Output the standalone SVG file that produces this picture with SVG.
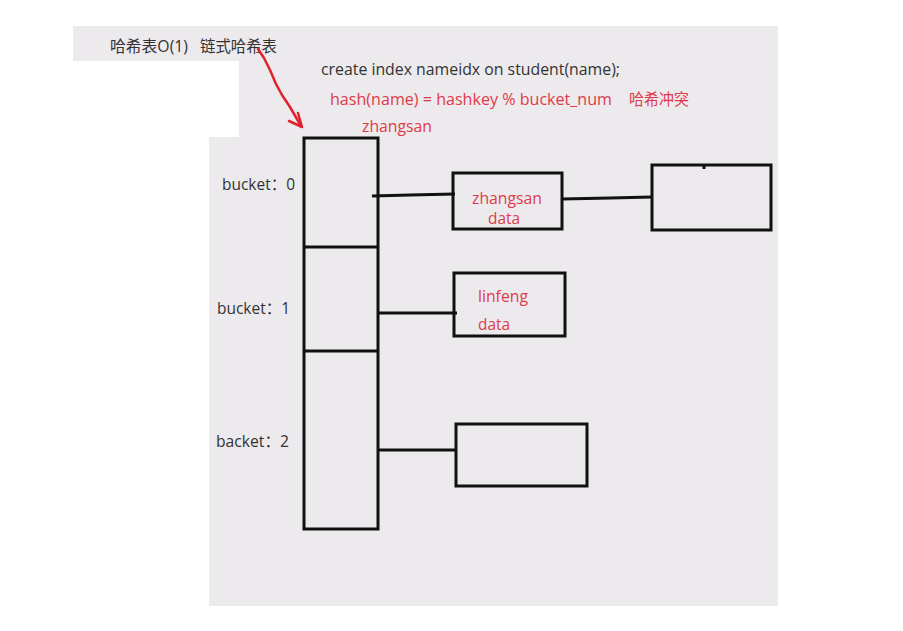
<svg xmlns="http://www.w3.org/2000/svg" width="903" height="631" viewBox="0 0 903 631">
<style>
.bg{fill:#eceaed}
.box{fill:none;stroke:#111;stroke-width:3}
.ln{stroke:#111;stroke-width:3;fill:none}
.t{font-family:"Open Sans","Noto Sans CJK SC",sans-serif;font-size:16px;fill:#333}
.r{font-family:"Open Sans","Noto Sans CJK SC",sans-serif;font-size:16px;fill:#e03a4a}
.arr{stroke:#e0222e;stroke-width:2.5;fill:none;stroke-linecap:round;stroke-linejoin:round}
</style>
<rect width="903" height="631" fill="#fff"/>
<path class="bg" d="M73,26 H778 V606 H209 V137 H239 V61 H73 Z"/>
<g id="titles">
<text class="t" x="110" y="52" textLength="78" lengthAdjust="spacingAndGlyphs">哈希表O(1)</text>
<text class="t" x="200" y="52" textLength="77" lengthAdjust="spacingAndGlyphs">链式哈希表</text>
<text class="t" x="321" y="75" textLength="299" lengthAdjust="spacingAndGlyphs">create index nameidx on student(name);</text>
<text class="r" x="330" y="105" textLength="282" lengthAdjust="spacingAndGlyphs">hash(name) = hashkey % bucket_num</text>
<text class="r" x="629" y="105" textLength="60" lengthAdjust="spacingAndGlyphs">哈希冲突</text>
<text class="r" x="362" y="132" textLength="70" lengthAdjust="spacingAndGlyphs">zhangsan</text>
</g>
<g id="arrow">
<path class="arr" d="M258,49 L264,58 L270,70 L276,84 L282,95 L290,107 L301,126"/>
<path class="arr" d="M289,121 L302,127 L298,113"/>
</g>
<g id="bucket-array">
<rect class="box" x="304" y="138" width="74" height="391"/>
<line class="ln" x1="304" y1="247" x2="378" y2="247"/>
<line class="ln" x1="304" y1="351" x2="378" y2="351"/>
<text class="t" x="222" y="190" textLength="73" lengthAdjust="spacingAndGlyphs">bucket：0</text>
<text class="t" x="217" y="314" textLength="73" lengthAdjust="spacingAndGlyphs">bucket：1</text>
<text class="t" x="216" y="447" textLength="73" lengthAdjust="spacingAndGlyphs">backet：2</text>
</g>
<g id="connectors">
<path class="ln" d="M372,196 L410,195 L455,194"/>
<path class="ln" d="M562,199 L610,198 L652,197"/>
<line class="ln" x1="378" y1="313" x2="457" y2="313"/>
<line class="ln" x1="378" y1="450" x2="456" y2="450"/>
</g>
<g id="node-zhangsan">
<rect class="box" x="453" y="173" width="109" height="56"/>
<text class="r" x="472" y="204" textLength="70" lengthAdjust="spacingAndGlyphs">zhangsan</text>
<text class="r" x="488" y="224" textLength="32" lengthAdjust="spacingAndGlyphs">data</text>
</g>
<g id="node-next">
<rect class="box" x="652" y="165" width="119" height="65"/>
<line class="ln" x1="704" y1="165" x2="704" y2="169"/>
</g>
<g id="node-linfeng">
<rect class="box" x="454" y="273" width="111" height="63"/>
<text class="r" x="478" y="302" textLength="50" lengthAdjust="spacingAndGlyphs">linfeng</text>
<text class="r" x="478" y="330" textLength="32" lengthAdjust="spacingAndGlyphs">data</text>
</g>
<g id="node-bucket2">
<rect class="box" x="456" y="424" width="131" height="62"/>
</g>
</svg>
